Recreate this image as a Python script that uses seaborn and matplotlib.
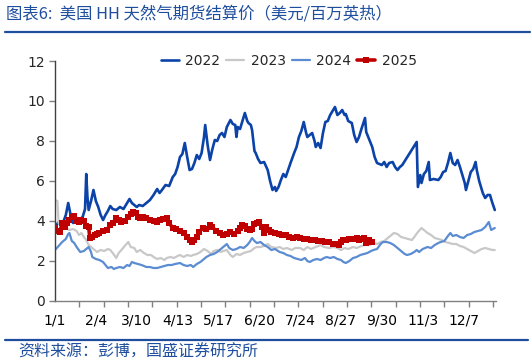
import numpy as np
import pandas as pd
import seaborn as sns
import matplotlib
matplotlib.use('Agg')
import matplotlib.pyplot as plt
from matplotlib.lines import Line2D

# --- dados (dia do ano, US$/MMBtu) ---

days_2022 = [0, 3, 6, 9, 11, 13, 15, 18, 21, 23, 25, 26, 27, 28, 30, 32, 34, 36, 38, 40,
             42, 44, 46, 48, 51, 54, 57, 60, 62, 64, 66, 68, 70, 73, 76, 79, 82, 85, 87, 89,
             92, 95, 98, 100, 102, 104, 106, 108, 110, 112, 114, 116, 118, 120, 122, 124, 125, 127, 129, 131,
             133, 135, 137, 139, 141, 143, 146, 148, 150, 151, 152, 154, 156, 158, 160, 161, 163, 164, 166, 167,
             169, 171, 174, 177, 179, 181, 183, 184, 186, 188, 190, 192, 194, 196, 199, 201, 203, 205, 207, 209,
             210, 212, 214, 216, 217, 219, 221, 223, 225, 227, 229, 231, 233, 235, 237, 239, 241, 242, 244, 247,
             249, 251, 253, 255, 258, 259, 262, 264, 266, 268, 270, 272, 274, 276, 278, 281, 283, 285, 287, 289,
             301, 302, 304, 305, 307, 309, 311, 312, 315, 319, 321, 323, 325, 327, 329, 331, 333, 335, 337, 339,
             341, 342, 344, 346, 348, 350, 351, 353, 356, 358, 360, 362, 364, 366]
vals_2022 = [3.7, 3.95, 3.8, 4.3, 4.9, 4.3, 3.9, 4.15, 4.1, 4.2, 4.6, 6.35, 5.2, 4.55, 5.0, 5.55, 5.0, 4.7, 4.3, 4.05,
             4.3, 4.5, 4.75, 4.6, 4.55, 4.7, 4.6, 4.9, 5.1, 4.9, 4.8, 4.7, 4.8, 4.75, 4.9, 5.05, 5.3, 5.6, 5.4, 5.55,
             5.8, 5.75, 6.2, 6.35, 6.7, 7.2, 7.35, 7.9, 7.2, 6.55, 6.6, 6.9, 7.3, 7.1, 7.4, 8.2, 8.8, 7.8, 7.05, 7.6,
             8.05, 8.0, 8.3, 8.4, 8.2, 8.7, 9.05, 8.85, 8.8, 8.2, 8.7, 8.6, 9.0, 9.4, 9.0, 8.9, 8.8, 8.55, 7.5, 7.4,
             7.1, 6.9, 6.95, 6.55, 6.0, 5.55, 5.7, 5.5, 5.7, 6.05, 6.35, 6.2, 6.55, 6.9, 7.4, 7.7, 8.2, 8.5, 8.95, 8.4,
             8.2, 8.3, 8.4, 8.0, 7.7, 7.9, 7.65, 8.4, 8.95, 9.0, 9.3, 9.5, 9.7, 9.3, 9.4, 9.55, 9.3, 9.35, 9.0, 8.9,
             8.3, 7.95, 8.2, 8.6, 9.15, 8.45, 8.0, 7.7, 7.2, 6.9, 6.85, 6.8, 6.95, 6.7, 6.9, 6.95, 6.7, 6.55, 6.7, 6.8,
             7.95, 5.7, 6.3, 5.9, 6.35, 6.5, 6.95, 6.05, 6.1, 6.05, 6.2, 6.45, 6.5, 6.9, 7.4, 6.9, 6.8, 7.05, 6.7, 6.3,
             5.9, 5.55, 6.0, 6.45, 6.6, 6.95, 6.55, 6.0, 5.4, 5.15, 5.3, 5.3, 4.9, 4.55]

days_2023 = [0, 2, 3, 6, 9, 12, 15, 18, 20, 22, 24, 26, 28, 30, 33, 35, 38, 41, 44, 46,
             48, 51, 53, 56, 58, 61, 63, 66, 68, 71, 74, 77, 80, 82, 85, 88, 91, 93, 96, 99,
             102, 104, 107, 110, 113, 115, 118, 121, 124, 127, 130, 132, 135, 138, 140, 143, 146, 148, 151, 154,
             157, 160, 163, 166, 168, 171, 174, 177, 180, 184, 187, 190, 193, 197, 200, 204, 207, 210, 213, 217,
             221, 224, 228, 232, 235, 238, 241, 244, 248, 251, 255, 258, 262, 265, 268, 271, 274, 277, 280, 282,
             285, 288, 291, 294, 297, 299, 302, 305, 307, 310, 313, 316, 319, 322, 325, 328, 331, 334, 337, 340,
             343, 346, 349, 352, 355, 358, 361, 364, 366]
vals_2023 = [5.05, 5.0, 3.9, 3.8, 3.65, 3.55, 3.6, 3.5, 3.3, 3.4, 3.2, 3.05, 2.8, 2.7, 2.55, 2.45, 2.55, 2.5, 2.6, 2.55,
             2.4, 2.15, 2.4, 2.6, 2.75, 2.95, 2.7, 2.65, 2.45, 2.55, 2.4, 2.3, 2.3, 2.2, 2.1, 2.15, 2.05, 2.15, 2.2, 2.15,
             2.25, 2.3, 2.2, 2.3, 2.25, 2.3, 2.35, 2.45, 2.6, 2.5, 2.35, 2.5, 2.55, 2.45, 2.5, 2.55, 2.3, 2.2, 2.35, 2.3,
             2.4, 2.45, 2.5, 2.65, 2.7, 2.7, 2.75, 2.85, 2.7, 2.65, 2.7, 2.6, 2.65, 2.55, 2.65, 2.65, 2.55, 2.7, 2.6, 2.7,
             2.8, 2.7, 2.65, 2.7, 2.65, 2.55, 2.65, 2.6, 2.7, 2.65, 2.75, 2.8, 2.8, 2.9, 2.85, 2.95, 3.0, 3.15, 3.3, 3.4,
             3.35, 3.2, 3.15, 3.1, 3.05, 3.2, 3.45, 3.65, 3.55, 3.4, 3.3, 3.15, 3.1, 3.05, 2.95, 2.9, 2.85, 2.85, 2.75, 2.7,
             2.6, 2.5, 2.4, 2.5, 2.6, 2.65, 2.6, 2.55, 2.55]

days_2024 = [0, 3, 6, 9, 11, 12, 14, 16, 18, 21, 24, 26, 28, 30, 31, 34, 37, 40, 42, 44,
             47, 49, 51, 54, 57, 60, 62, 64, 66, 69, 72, 74, 76, 79, 82, 85, 88, 91, 94, 97,
             100, 104, 107, 110, 113, 115, 118, 121, 124, 126, 129, 132, 135, 137, 140, 143, 145, 148, 151, 154,
             157, 160, 162, 164, 166, 168, 171, 174, 177, 180, 183, 187, 190, 193, 196, 199, 202, 205, 208, 210,
             212, 215, 218, 221, 224, 226, 229, 232, 235, 238, 240, 242, 245, 248, 251, 254, 257, 260, 263, 265,
             268, 271, 273, 276, 279, 282, 285, 288, 291, 293, 296, 299, 301, 303, 306, 308, 310, 313, 316, 319,
             321, 324, 327, 329, 331, 334, 337, 340, 343, 346, 349, 352, 355, 358, 361, 363, 366]
vals_2024 = [2.55, 2.75, 2.95, 3.1, 3.35, 3.4, 3.0, 2.9, 2.7, 2.45, 2.5, 2.6, 2.7, 2.45, 2.2, 2.1, 2.05, 1.95, 1.8, 1.65,
             1.7, 1.6, 1.65, 1.7, 1.65, 1.8, 1.75, 1.95, 1.9, 1.85, 1.8, 1.75, 1.7, 1.7, 1.65, 1.65, 1.7, 1.75, 1.8, 1.8,
             1.85, 1.9, 1.8, 1.75, 1.8, 1.7, 1.85, 1.95, 2.1, 2.2, 2.3, 2.35, 2.45, 2.55, 2.7, 2.85, 2.65, 2.55, 2.6, 2.7,
             2.65, 2.8, 2.95, 3.15, 3.0, 2.9, 2.95, 2.8, 2.7, 2.55, 2.6, 2.45, 2.4, 2.3, 2.25, 2.15, 2.1, 2.05, 2.15, 2.0,
             1.95, 2.05, 2.1, 2.05, 2.15, 2.2, 2.15, 2.2, 2.1, 2.05, 1.95, 1.9, 2.0, 2.15, 2.2, 2.3, 2.35, 2.4, 2.5, 2.55,
             2.6, 2.85, 2.95, 2.95, 2.9, 2.8, 2.65, 2.5, 2.35, 2.3, 2.35, 2.45, 2.55, 2.45, 2.6, 2.65, 2.7, 2.65, 2.8, 2.9,
             2.95, 3.0, 3.25, 3.4, 3.25, 3.3, 3.2, 3.15, 3.3, 3.35, 3.45, 3.5, 3.55, 3.7, 3.95, 3.55, 3.65]

days_2025 = [0, 2, 4, 6, 8, 10, 12, 14, 16, 18, 20, 22, 24, 26, 28, 29, 31, 33, 35, 37,
             40, 43, 46, 48, 51, 53, 55, 58, 61, 63, 65, 67, 69, 71, 73, 76, 79, 82, 85, 87,
             90, 93, 95, 98, 101, 104, 107, 110, 112, 114, 116, 118, 120, 123, 126, 129, 131, 134, 137, 140,
             143, 146, 149, 152, 154, 156, 158, 160, 162, 164, 166, 168, 170, 172, 174, 176, 178, 180, 183, 186,
             189, 192, 195, 198, 201, 204, 207, 210, 213, 216, 219, 222, 225, 228, 231, 234, 236, 238, 240, 242,
             245, 248, 251, 253, 255, 257, 259, 261, 264]
vals_2025 = [3.65, 3.5, 3.45, 3.9, 3.7, 3.9, 4.05, 4.2, 4.25, 4.0, 3.95, 4.05, 4.0, 3.75, 3.7, 3.15, 3.2, 3.3, 3.35, 3.4,
             3.5, 3.55, 3.8, 3.9, 4.15, 4.05, 3.95, 4.0, 4.2, 4.35, 4.45, 4.4, 4.2, 4.15, 4.2, 4.15, 4.05, 4.0, 3.95, 4.05,
             4.1, 4.15, 3.9, 3.65, 3.6, 3.5, 3.4, 3.2, 3.05, 2.95, 3.05, 3.2, 3.45, 3.65, 3.6, 3.8, 3.7, 3.5, 3.4, 3.3,
             3.35, 3.45, 3.35, 3.5, 3.65, 3.8, 3.75, 3.6, 3.55, 3.6, 3.85, 3.9, 3.95, 3.7, 3.4, 3.7, 3.55, 3.45, 3.4, 3.35,
             3.3, 3.3, 3.2, 3.15, 3.2, 3.15, 3.1, 3.1, 3.05, 3.05, 3.0, 3.0, 2.95, 2.95, 2.85, 2.85, 2.8, 2.95, 3.05, 3.05,
             3.1, 3.1, 3.15, 3.05, 3.1, 3.15, 2.9, 3.05, 2.95]

tick_days = [0, 34, 68, 102, 136, 170, 204, 238, 272, 306, 340]
tick_labels = ['1/1', '2/4', '3/10', '4/13', '5/17', '6/20', '7/24', '8/27', '9/30', '11/3', '12/7']

COLORS = {'2022': '#0B43A8', '2023': '#C8C8C8', '2024': '#5B8CD2', '2025': '#C00000'}
TEXT_BLUE = '#1F4E9E'


def main():
    sns.set_theme(style="white")
    plt.rcParams['font.family'] = ['DejaVu Sans', 'Noto Sans CJK SC']

    fig = plt.figure(figsize=(5.32, 3.64), dpi=100)
    ax = fig.add_axes([55 / 532, 1 - 301 / 364, 441 / 532, 240 / 364])

    series = [('2022', days_2022, vals_2022), ('2023', days_2023, vals_2023),
              ('2024', days_2024, vals_2024)]
    for name, d, v in series:
        df = pd.DataFrame({'day': d, 'price': v})
        sns.lineplot(data=df, x='day', y='price', ax=ax, color=COLORS[name],
                     linewidth=1.9 if name == '2022' else 1.6, label=name)

    df25 = pd.DataFrame({'day': days_2025, 'price': vals_2025})
    sns.lineplot(data=df25, x='day', y='price', ax=ax, color=COLORS['2025'],
                 linewidth=2.6, marker='s', markersize=4.6, markeredgewidth=0,
                 label='2025')

    ax.set_xlim(0, 367)
    ax.set_ylim(0, 12)
    ax.set_xlabel('')
    ax.set_ylabel('')
    ax.set_yticks(np.arange(0, 13, 2))
    ax.set_xticks(tick_days)
    ax.set_xticklabels(tick_labels)
    ax.set_xticks(np.arange(0, 366, 20.25), minor=True)
    ax.tick_params(axis='x', which='major', length=0, pad=9, labelsize=10, colors='black')
    ax.tick_params(axis='x', which='minor', length=4, width=1, color='#808080', direction='out')
    ax.tick_params(axis='y', length=4, width=1, color='#808080', pad=3, labelsize=10,
                   direction='out', left=True)
    ax.tick_params(axis='x', which='minor', bottom=True)

    for s in ['top', 'right']:
        ax.spines[s].set_visible(False)
    ax.spines['left'].set_color('#404040')
    ax.spines['bottom'].set_color('#808080')
    ax.spines['left'].set_linewidth(1)
    ax.spines['bottom'].set_linewidth(1)

    ax.legend(loc='center', bbox_to_anchor=(0.53, 1.0), ncol=4, frameon=False,
              fontsize=10, handlelength=1.3, handletextpad=0.45, columnspacing=0.45)

    cjk = ['Noto Sans CJK SC', 'DejaVu Sans']
    fig.text(6 / 532, 1 - 14 / 364, '图表6:  美国 HH 天然气期货结算价（美元/百万英热）',
             family=cjk, fontsize=11.8, color=TEXT_BLUE, va='center', ha='left', style='italic')
    fig.add_artist(Line2D([5 / 532, 530 / 532], [1 - 32 / 364, 1 - 32 / 364],
                          color=TEXT_BLUE, linewidth=1.6))
    fig.add_artist(Line2D([5 / 532, 528 / 532], [1 - 340 / 364, 1 - 340 / 364],
                          color=TEXT_BLUE, linewidth=1.6))
    fig.text(18 / 532, 1 - 352 / 364, '资料来源：彭博，国盛证券研究所',
             family=cjk, fontsize=11.5, color=TEXT_BLUE, va='center', ha='left', style='italic')

    fig.savefig('out.png', dpi=100)


if __name__ == "__main__":
    main()
